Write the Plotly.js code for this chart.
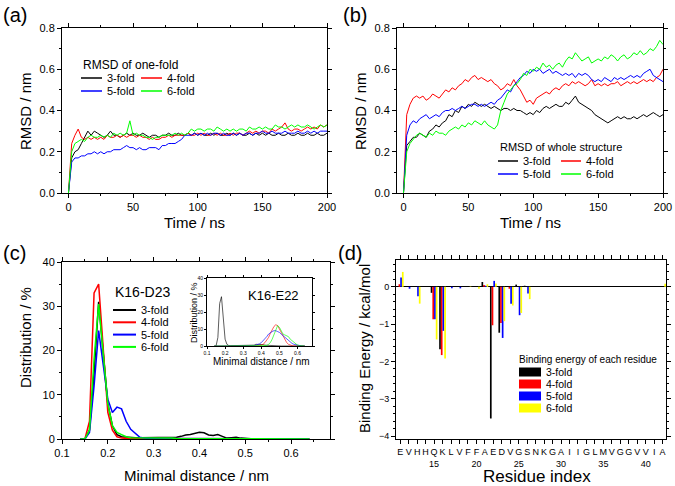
<!DOCTYPE html>
<html>
<head>
<meta charset="utf-8">
<script src="https://cdn.plot.ly/plotly-3.0.1.min.js"></script>
<style>
  html, body { margin: 0; padding: 0; background: #fff; }
  #chart { width: 675px; height: 486px; }
</style>
</head>
<body>
<div id="chart"></div>
<script>
const FONT = 'Liberation Sans, Arial, sans-serif';

const foldNames = ['3-fold', '4-fold', '5-fold', '6-fold'];
const lineColors = ['#000000', '#ff0000', '#0000ff', '#00ff00'];
const barColors = ['#000000', '#ff0000', '#0000ff', '#ffff00'];

// (a) and (b): RMSD vs time
const timeNs = [0,2.5,5,7.5,10,12.5,15,17.5,20,22.5,25,27.5,30,32.5,35,37.5,40,42.5,45,47.5,
  50,52.5,55,57.5,60,62.5,65,67.5,70,72.5,75,77.5,80,82.5,85,87.5,90,92.5,95,97.5,
  100,102.5,105,107.5,110,112.5,115,117.5,120,122.5,125,127.5,130,132.5,135,137.5,140,142.5,145,147.5,
  150,152.5,155,157.5,160,162.5,165,167.5,170,172.5,175,177.5,180,182.5,185,187.5,190,192.5,195,197.5,200];

const rmsdOneFold3 = [
  0.00,0.17,0.20,0.21,0.24,0.27,0.30,0.28,0.30,0.29,
  0.28,0.27,0.28,0.30,0.28,0.28,0.27,0.28,0.29,0.28,
  0.29,0.28,0.28,0.29,0.28,0.27,0.28,0.28,0.27,0.28,
  0.28,0.29,0.28,0.28,0.29,0.28,0.28,0.29,0.28,0.29,
  0.28,0.29,0.28,0.28,0.29,0.28,0.29,0.28,0.28,0.29,
  0.28,0.29,0.28,0.29,0.28,0.28,0.29,0.28,0.29,0.28,
  0.29,0.28,0.29,0.28,0.28,0.29,0.28,0.28,0.29,0.28,
  0.28,0.29,0.28,0.28,0.29,0.28,0.28,0.29,0.28,0.28,
  0.29];
const rmsdOneFold4 = [
  0.00,0.24,0.28,0.31,0.27,0.26,0.27,0.26,0.27,0.26,
  0.27,0.26,0.28,0.27,0.27,0.28,0.27,0.28,0.27,0.28,
  0.28,0.27,0.28,0.27,0.27,0.26,0.27,0.26,0.26,0.27,
  0.27,0.28,0.27,0.28,0.28,0.28,0.28,0.29,0.28,0.28,
  0.29,0.28,0.29,0.28,0.28,0.29,0.28,0.29,0.28,0.28,
  0.29,0.28,0.29,0.29,0.28,0.29,0.30,0.29,0.30,0.29,
  0.30,0.30,0.29,0.31,0.30,0.31,0.32,0.34,0.31,0.30,
  0.31,0.31,0.30,0.31,0.32,0.31,0.32,0.31,0.33,0.32,
  0.33];
const rmsdOneFold5 = [
  0.00,0.15,0.17,0.17,0.18,0.18,0.19,0.19,0.20,0.19,
  0.20,0.19,0.20,0.20,0.21,0.21,0.21,0.22,0.23,0.22,
  0.22,0.21,0.22,0.21,0.21,0.22,0.22,0.22,0.21,0.23,
  0.23,0.24,0.24,0.24,0.25,0.26,0.28,0.28,0.28,0.29,
  0.28,0.29,0.28,0.29,0.28,0.29,0.29,0.28,0.29,0.28,
  0.28,0.29,0.28,0.29,0.28,0.29,0.29,0.28,0.29,0.29,
  0.30,0.29,0.29,0.30,0.29,0.29,0.29,0.30,0.29,0.29,
  0.29,0.30,0.29,0.29,0.30,0.29,0.30,0.29,0.30,0.30,
  0.30];
const rmsdOneFold6 = [
  0.00,0.20,0.24,0.25,0.26,0.25,0.27,0.28,0.27,0.27,
  0.28,0.27,0.28,0.27,0.29,0.28,0.29,0.28,0.29,0.35,
  0.28,0.29,0.28,0.28,0.27,0.27,0.26,0.27,0.27,0.28,
  0.28,0.28,0.28,0.29,0.28,0.29,0.28,0.29,0.31,0.30,
  0.31,0.31,0.30,0.31,0.31,0.30,0.32,0.31,0.30,0.31,
  0.30,0.31,0.30,0.31,0.31,0.30,0.32,0.31,0.31,0.32,
  0.31,0.32,0.31,0.31,0.33,0.32,0.32,0.31,0.32,0.33,
  0.32,0.33,0.32,0.32,0.33,0.32,0.31,0.32,0.33,0.32,
  0.33];

const rmsdWhole3 = [
  0.00,0.23,0.25,0.27,0.27,0.29,0.28,0.27,0.30,0.31,
  0.33,0.32,0.34,0.35,0.38,0.37,0.40,0.39,0.42,0.41,
  0.43,0.42,0.44,0.43,0.42,0.43,0.42,0.41,0.42,0.41,
  0.40,0.41,0.41,0.40,0.41,0.40,0.40,0.39,0.38,0.39,
  0.38,0.40,0.39,0.41,0.42,0.41,0.42,0.43,0.42,0.42,
  0.44,0.43,0.45,0.47,0.44,0.43,0.42,0.41,0.40,0.38,
  0.37,0.36,0.35,0.34,0.35,0.36,0.37,0.36,0.37,0.36,
  0.36,0.37,0.36,0.37,0.38,0.37,0.38,0.39,0.38,0.37,
  0.38];
const rmsdWhole4 = [
  0.00,0.38,0.43,0.46,0.47,0.46,0.47,0.45,0.46,0.48,
  0.47,0.46,0.48,0.50,0.49,0.51,0.50,0.52,0.53,0.55,
  0.54,0.56,0.57,0.55,0.56,0.55,0.54,0.55,0.53,0.52,
  0.50,0.51,0.53,0.52,0.55,0.52,0.50,0.47,0.44,0.45,
  0.43,0.46,0.47,0.48,0.49,0.48,0.50,0.51,0.50,0.52,
  0.53,0.52,0.54,0.53,0.54,0.53,0.52,0.53,0.55,0.52,
  0.53,0.52,0.53,0.52,0.53,0.53,0.54,0.52,0.53,0.54,
  0.53,0.54,0.53,0.54,0.55,0.54,0.55,0.54,0.56,0.57,
  0.60];
const rmsdWhole5 = [
  0.00,0.28,0.33,0.35,0.34,0.36,0.37,0.38,0.36,0.37,
  0.38,0.37,0.39,0.40,0.40,0.41,0.40,0.41,0.42,0.41,
  0.42,0.43,0.43,0.42,0.43,0.42,0.43,0.44,0.43,0.45,
  0.46,0.48,0.50,0.49,0.52,0.54,0.56,0.57,0.59,0.58,
  0.60,0.59,0.60,0.58,0.59,0.60,0.58,0.59,0.58,0.57,
  0.58,0.57,0.58,0.56,0.58,0.57,0.58,0.57,0.55,0.54,
  0.55,0.54,0.56,0.55,0.54,0.56,0.55,0.56,0.55,0.56,
  0.57,0.56,0.57,0.56,0.58,0.59,0.60,0.57,0.56,0.55,
  0.54];
const rmsdWhole6 = [
  0.00,0.20,0.24,0.26,0.28,0.29,0.28,0.27,0.29,0.28,
  0.30,0.29,0.29,0.28,0.30,0.31,0.32,0.31,0.33,0.32,
  0.34,0.33,0.35,0.34,0.33,0.35,0.33,0.32,0.31,0.33,
  0.40,0.44,0.48,0.50,0.52,0.53,0.55,0.58,0.57,0.60,
  0.59,0.61,0.60,0.63,0.61,0.62,0.60,0.62,0.63,0.61,
  0.64,0.66,0.65,0.68,0.66,0.64,0.65,0.66,0.63,0.64,
  0.65,0.64,0.66,0.65,0.67,0.66,0.64,0.66,0.67,0.65,
  0.66,0.68,0.67,0.69,0.67,0.68,0.70,0.69,0.71,0.74,
  0.72];

// (c): minimal distance distributions
const distNm = [0.14,0.15,0.16,0.17,0.18,0.19,0.20,0.21,0.22,0.23,
  0.24,0.25,0.26,0.27,0.28,0.29,0.30,0.31,0.32,0.33,
  0.34,0.35,0.36,0.37,0.38,0.39,0.40,0.41,0.42,0.43,
  0.44,0.45,0.46,0.47,0.48,0.49,0.50,0.51,0.52,0.53,
  0.54,0.55,0.56,0.57,0.58,0.59,0.60,0.61,0.62,0.63,0.64];

const k16d23Fold3 = [0,0,2,15,31,19,8,3,1,0.5, 0.4,0.3,0.3,0.3,0.3,0.4,0.3,0.3,0.4,0.3,
  0.3,0.4,0.6,0.9,1.0,1.3,1.5,1.4,0.9,0.8, 1.0,0.6,0.2,0.3,0.4,0.2,0.1,0,0,0, 0,0,0,0,0,0,0,0,0,0, 0];
const k16d23Fold4 = [0,0,4,33,35,20,6,2,0.5,0.2, 0.1,0.1,0.1,0.1,0.1,0.1,0.1,0,0,0,
  0,0,0,0,0,0,0,0,0,0, 0,0,0,0,0,0,0,0,0,0, 0,0,0,0,0,0,0,0,0,0, 0];
const k16d23Fold5 = [0,0,1.5,12,24.5,17,9,6,7.2,6.8, 4,2.2,1.2,0.4,0.2,0.1,0.1,0.1,0.1,0.1,
  0.1,0.1,0,0,0,0,0,0,0,0, 0,0,0,0,0,0,0,0,0,0, 0,0,0,0,0,0,0,0,0,0, 0];
const k16d23Fold6 = [0,0,2,18,30.5,20,8,3,1.5,1, 0.5,0.3,0.3,0.3,0.3,0.3,0.2,0.2,0.3,0.2,
  0.2,0.1,0.1,0,0,0,0,0,0,0, 0,0,0,0,0,0,0,0,0,0, 0,0,0,0,0,0,0,0,0,0, 0];

const k16e22Fold3 = [0,0,5,25,29,15,4,1,0.3,0.2, 0.2,0.2,0.2,0.2,0.2,0.2,0.3,0.3,0.3,0.3,
  0.3,0.4,0.5,1.0,1.0,1.2,1.0,0.8,0.5,0.4, 0.3,0.2,0.1,0.1,0.1,0,0,0,0,0, 0,0,0,0,0,0,0,0,0,0, 0];
const k16e22Fold4 = [0,0,0,0,0,0,0,0,0,0, 0,0,0,0,0,0,0,0,0,0,
  0,0,0,0,0,0.2,0.5,1,2,3.5, 5,7.5,10,11.5,12.5,12,10,8,6,4, 2,1,0.5,0.2,0,0,0,0,0,0, 0];
const k16e22Fold5 = [0,0,0,0,0,0,0,0,0,0, 0,0,0,0,0,0,0,0,0,0,
  0,0,0.2,0.5,0.8,1.3,2,3,4,5.5, 7,8,8.5,9,9,8.5,8,7,6,5, 4,3,2,1.5,1,0.7,0.5,0.3,0.1,0, 0];
const k16e22Fold6 = [0,0,0,0,0,0,0,0,0,0, 0,0,0,0,0,0,0,0,0,0,
  0,0,0,0,0,0,0,0,0,0.3, 1,2,4,7,10,12,11,9,7,6.5, 6,5.5,4,3,2,1,0.5,0.2,0,0, 0];

// (d): binding energy per residue
const residueIdx = [11,12,13,14,15,16,17,18,19,20,21,22,23,24,25,26,27,28,29,30,31,32,33,34,35,36,37,38,39,40,41,42];
const residueLetters = ['E','V','H','H','Q','K','L','V','F','F','A','E','D','V','G','S',
  'N','K','G','A','I','I','G','L','M','V','G','G','V','V','I','A'];
const energyFold3 = [0,0,0,0,-0.16,-1.67,0,0,0,0,0.13,-3.53,-1.23,0,0.06,0.03, 0,0,0,0,0,0,0,0,0,0,0,0,0,0,0,0];
const energyFold4 = [0.07,0,0,0,-0.87,-1.83,0,0,0,0,0.05,-1.03,-0.97,-0.05,0,0, 0,0,0,0,0,0,0,0,0,0,0,0,0,0,0,0];
const energyFold5 = [0.25,-0.05,-0.25,0,-0.87,-1.18,-0.04,-0.04,0,0,0.03,0.16,-1.37,-0.45,-0.76,-0.18, 0,0,0,0,0,0,0,0,0,0,0,0,0,0,0,0];
const energyFold6 = [0.4,0,-0.45,0,-1.41,-1.92,0,0,0.01,-0.05,0.07,0.09,-0.92,-0.5,-0.7,-0.33, 0,0,0,0,0,0,0,0,0,0,0,0,0,0,0,0.08];

const oneFold = [rmsdOneFold3, rmsdOneFold4, rmsdOneFold5, rmsdOneFold6];
const whole = [rmsdWhole3, rmsdWhole4, rmsdWhole5, rmsdWhole6];
const k16d23 = [k16d23Fold3, k16d23Fold4, k16d23Fold5, k16d23Fold6];
const k16e22 = [k16e22Fold3, k16e22Fold4, k16e22Fold5, k16e22Fold6];
const energies = [energyFold3, energyFold4, energyFold5, energyFold6];

// tick text for residue axis: letter, plus index every 5
const residueTicks = residueIdx.map((r, i) => r % 5 === 0 ? residueLetters[i] + '<br>' + r : residueLetters[i]);

const traces = [];
for (let i = 0; i < 4; i++) {
    traces.push({x: timeNs, y: oneFold[i], xaxis: 'x', yaxis: 'y', type: 'scatter', mode: 'lines',
        line: {color: lineColors[i], width: 1}, showlegend: false, hoverinfo: 'skip'});
}
for (let i = 0; i < 4; i++) {
    traces.push({x: timeNs, y: whole[i], xaxis: 'x2', yaxis: 'y2', type: 'scatter', mode: 'lines',
        line: {color: lineColors[i], width: 1}, showlegend: false, hoverinfo: 'skip'});
}
for (let i = 0; i < 4; i++) {
    traces.push({x: distNm, y: k16d23[i], xaxis: 'x3', yaxis: 'y3', type: 'scatter', mode: 'lines',
        line: {color: lineColors[i], width: 1.5}, showlegend: false, hoverinfo: 'skip'});
}
for (let i = 0; i < 4; i++) {
    traces.push({x: residueIdx, y: energies[i], xaxis: 'x4', yaxis: 'y4', type: 'bar',
        marker: {color: barColors[i], line: {width: 0}}, showlegend: false, hoverinfo: 'skip'});
}
for (let i = 0; i < 4; i++) {
    traces.push({x: distNm, y: k16e22[i], xaxis: 'x5', yaxis: 'y5', type: 'scatter', mode: 'lines',
        line: {color: lineColors[i], width: 0.8}, opacity: 0.8, showlegend: false, hoverinfo: 'skip'});
}

function px(x) { return x / 675; }
function py(y) { return 1 - y / 486; }

function axisStyle(extra) {
    return Object.assign({
        showline: true, linecolor: '#000', linewidth: 1, mirror: 'ticks',
        ticks: 'outside', ticklen: 4, tickwidth: 1, tickcolor: '#000',
        showgrid: false, zeroline: false,
        tickfont: {family: FONT, size: 11, color: '#000'}
    }, extra);
}

const shapes = [];
const annotations = [];

function addText(text, x, y, size, xanchor, angle) {
    annotations.push({text: text, xref: 'paper', yref: 'paper', x: px(x), y: py(y),
        xanchor: xanchor || 'left', yanchor: 'middle', showarrow: false, textangle: angle || 0,
        font: {family: FONT, size: size, color: '#000'}});
}

function lineLegend(title, titleSize, x0, yTitle, yFirst, rowH, cols, colW, lineLen, lineW) {
    addText(title, x0, yTitle, titleSize);
    foldNames.forEach((name, i) => {
        const lx = x0 + (i % cols) * colW;
        const ly = yFirst + Math.floor(i / cols) * rowH;
        shapes.push({type: 'line', xref: 'paper', yref: 'paper', x0: px(lx), x1: px(lx + lineLen),
            y0: py(ly), y1: py(ly), line: {color: lineColors[i], width: lineW}});
        addText(name, lx + lineLen + 3, ly, 11);
    });
}

lineLegend('RMSD of one-fold', 12, 81, 65, 78, 13, 2, 60, 21, 1.5);
lineLegend('RMSD of whole structure', 11, 498, 147, 161, 13, 2, 63, 20, 1.5);
lineLegend('K16-D23', 14, 113, 292, 310, 12.3, 1, 0, 23, 2);

// bar legend for (d)
addText('Binding energy of each residue', 517, 359, 10);
foldNames.forEach((name, i) => {
    const ly = 372 + i * 12;
    shapes.push({type: 'rect', xref: 'paper', yref: 'paper', x0: px(519), x1: px(541),
        y0: py(ly + 4.5), y1: py(ly - 4.5), fillcolor: barColors[i], line: {width: 0}});
    addText(name, 544, ly, 10.5);
});

addText('K16-E22', 246, 295, 13);
addText('(a)', 1, 15, 20);
addText('(b)', 341, 15, 20);
addText('(c)', 1, 253, 20);
addText('(d)', 336, 253, 20);

// axis titles
addText('Time / ns', 194, 222, 15, 'center');
addText('RMSD / nm', 25, 111, 15, 'center', -90);
addText('Time / ns', 530, 222, 15, 'center');
addText('RMSD / nm', 360, 111, 15, 'center', -90);
addText('Minimal distance / nm', 196, 475, 15, 'center');
addText('Distribution / %', 25, 338, 15, 'center', -90);
addText('Residue index', 537, 476, 17, 'center');
addText('Binding Energy / kcal/mol', 364, 348, 15, 'center', -90);
addText('Minimal distance / nm', 261, 361, 10, 'center');
addText('Distribution / %', 194, 313, 9, 'center', -90);

const minorTicks = (d) => ({dtick: d, ticks: 'outside', ticklen: 2, tickcolor: '#000'});

const layout = {
    width: 675, height: 486,
    margin: {l: 0, r: 0, t: 0, b: 0},
    paper_bgcolor: '#fff', plot_bgcolor: '#fff',
    font: {family: FONT, color: '#000'},
    showlegend: false,
    barmode: 'group', bargap: 0.2, bargroupgap: 0,
    xaxis: axisStyle({domain: [px(62), px(327)], anchor: 'y', range: [-5, 200],
        tickvals: [0, 50, 100, 150, 200], minor: minorTicks(25)}),
    yaxis: axisStyle({domain: [py(193), py(28)], anchor: 'x', range: [0, 0.8],
        tickvals: [0, 0.2, 0.4, 0.6, 0.8], tickformat: '.1f', minor: minorTicks(0.1)}),
    xaxis2: axisStyle({domain: [px(397), px(663)], anchor: 'y2', range: [-5, 200],
        tickvals: [0, 50, 100, 150, 200], minor: minorTicks(25)}),
    yaxis2: axisStyle({domain: [py(193), py(28)], anchor: 'x2', range: [0, 0.8],
        tickvals: [0, 0.2, 0.4, 0.6, 0.8], tickformat: '.1f', minor: minorTicks(0.1)}),
    xaxis3: axisStyle({domain: [px(62), px(330)], anchor: 'y3', range: [0.1, 0.685],
        tickvals: [0.1, 0.2, 0.3, 0.4, 0.5, 0.6], tickformat: '.1f', minor: minorTicks(0.05)}),
    yaxis3: axisStyle({domain: [py(439), py(262)], anchor: 'x3', range: [0, 40],
        tickvals: [0, 10, 20, 30, 40], minor: minorTicks(5)}),
    xaxis4: axisStyle({domain: [px(396), px(666)], anchor: 'y4', range: [10.5, 42.4],
        tickvals: residueIdx, ticktext: residueTicks, tickangle: 0, ticklen: 4,
        tickfont: {family: FONT, size: 9, color: '#000'}}),
    yaxis4: axisStyle({domain: [py(439), py(260)], anchor: 'x4', range: [-4.08, 0.72],
        tickvals: [-4, -3, -2, -1, 0], tickfont: {family: FONT, size: 9, color: '#000'},
        minor: minorTicks(0.2), zeroline: true, zerolinecolor: '#000', zerolinewidth: 1}),
    xaxis5: axisStyle({domain: [px(207), px(312)], anchor: 'y5', range: [0.1, 0.68],
        tickvals: [0.1, 0.2, 0.3, 0.4, 0.5, 0.6], tickformat: '.1f', ticklen: 2,
        tickfont: {family: FONT, size: 5, color: '#000'}}),
    yaxis5: axisStyle({domain: [py(346), py(278)], anchor: 'x5', range: [0, 40],
        tickvals: [0, 10, 20, 30, 40], ticklen: 2,
        tickfont: {family: FONT, size: 5, color: '#000'}}),
    shapes: shapes,
    annotations: annotations
};

Plotly.newPlot('chart', traces, layout, {staticPlot: true});
</script>
</body>
</html>
